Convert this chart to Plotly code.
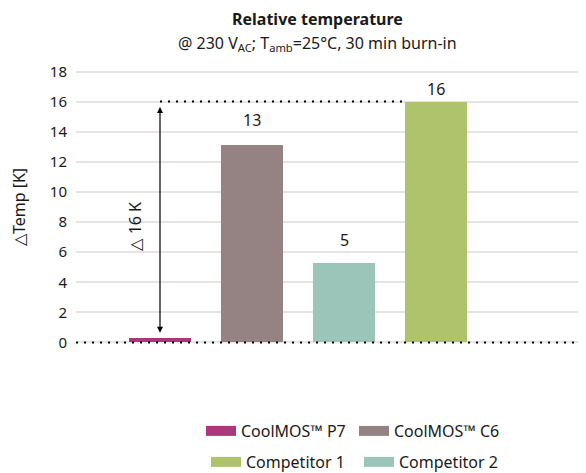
import plotly.graph_objects as go

categories = ["CoolMOS™ P7", "CoolMOS™ C6", "Competitor 2", "Competitor 1"]
values = [0.33, 13.1, 5.3, 16.0]
value_labels = ["", "13", "5", "16"]
colors = ["#ad377b", "#958283", "#9bc5b9", "#aec36b"]
legend_order = ["CoolMOS™ P7", "CoolMOS™ C6", "Competitor 1", "Competitor 2"]
label_shift = [0, 25, 23, 13]

FONT = "Noto Sans"
# the page body adds an 8px margin, so the figure is laid out 8px smaller
OFF = 8
W, H = 586 - OFF, 473 - OFF

fig = go.Figure()
for i, name in enumerate(categories):
    fig.add_trace(go.Bar(
        x=[i], y=[values[i]], name=name, width=0.67, showlegend=False,
        marker=dict(color=colors[i], line=dict(width=0)),
        hoverinfo="skip",
    ))

# legend entries (one legend per slot, 2 x 2 grid)
legend_ids = ["legend", "legend2", "legend3", "legend4"]
legend_pos = [(193, 423), (346, 423), (198, 454), (351, 454)]
for k, name in enumerate(legend_order):
    i = categories.index(name)
    fig.add_trace(go.Scatter(
        x=[None], y=[None], mode="lines", name=name, legend=legend_ids[k],
        line=dict(color=colors[i], width=10), hoverinfo="skip",
    ))

for i, (v, t) in enumerate(zip(values, value_labels)):
    if t:
        fig.add_annotation(x=i, y=v, text=t, showarrow=False, yshift=label_shift[i],
                           font=dict(size=16, color="#1a1a1a", family=FONT), yanchor="middle")

# dotted zero line and 16 K reference
fig.add_shape(type="line", xref="paper", x0=0, x1=1, yref="y", y0=0, y1=0,
              line=dict(color="black", width=2, dash="2px,6px"), layer="above")
fig.add_shape(type="line", xref="x", x0=0, x1=3 - 0.36, yref="y", y0=values[3], y1=values[3],
              line=dict(color="black", width=2, dash="2px,6px"), layer="above")

# double arrow
fig.add_annotation(x=0, y=15.65, ax=0, ay=0.55, xref="x", yref="y", axref="x", ayref="y",
                   text="", showarrow=True, arrowhead=2, arrowside="end+start", arrowsize=1,
                   arrowwidth=1.2, arrowcolor="black")
fig.add_annotation(x=-0.275, y=7.75, text="△ 16 K", textangle=-90, showarrow=False,
                   font=dict(size=16, color="#1a1a1a", family=FONT))

# titles
fig.add_annotation(xref="paper", yref="paper", x=0.4745, y=1, yshift=48.5, yanchor="middle",
                   text="<b>Relative temperature</b>",
                   showarrow=False, font=dict(size=16, color="#1a1a1a", family=FONT))
fig.add_annotation(xref="paper", yref="paper", x=0.4745, y=1, yshift=23.5, yanchor="middle",
                   text="@ 230 V<sub>AC</sub>; T<sub>amb</sub>=25°C, 30 min burn-in",
                   showarrow=False, font=dict(size=16, color="#1a1a1a", family=FONT))

layout_legends = {}
for lid, (px, py) in zip(legend_ids, legend_pos):
    layout_legends[lid] = dict(
        orientation="h", xref="container", yref="container",
        x=px / W, xanchor="left", y=(H - py) / H, yanchor="middle",
        font=dict(size=16, family=FONT, color="#1a1a1a"),
        bgcolor="rgba(0,0,0,0)", borderwidth=0, itemwidth=30,
    )

fig.update_layout(
    width=W, height=H,
    margin=dict(l=76 - OFF, r=0, t=66.5 - OFF, b=125.5),
    plot_bgcolor="white", paper_bgcolor="white",
    barmode="overlay", bargap=0,
    font=dict(family=FONT, size=15, color="#1a1a1a"),
    showlegend=True,
    xaxis=dict(range=[-0.913, 4.63], showticklabels=False, showgrid=False, zeroline=False,
               showline=False, ticks=""),
    yaxis=dict(range=[-0.3, 18.3], tickvals=list(range(0, 19, 2)), showgrid=True,
               gridcolor="#e8e4e4", gridwidth=2, zeroline=False, showline=False,
               title=dict(text="△Temp [K]", standoff=24, font=dict(size=16, family=FONT)),
               tickfont=dict(size=15, family=FONT), ticks="", ticklabelstandoff=8),
    **layout_legends,
)
fig.write_html("out.html")
